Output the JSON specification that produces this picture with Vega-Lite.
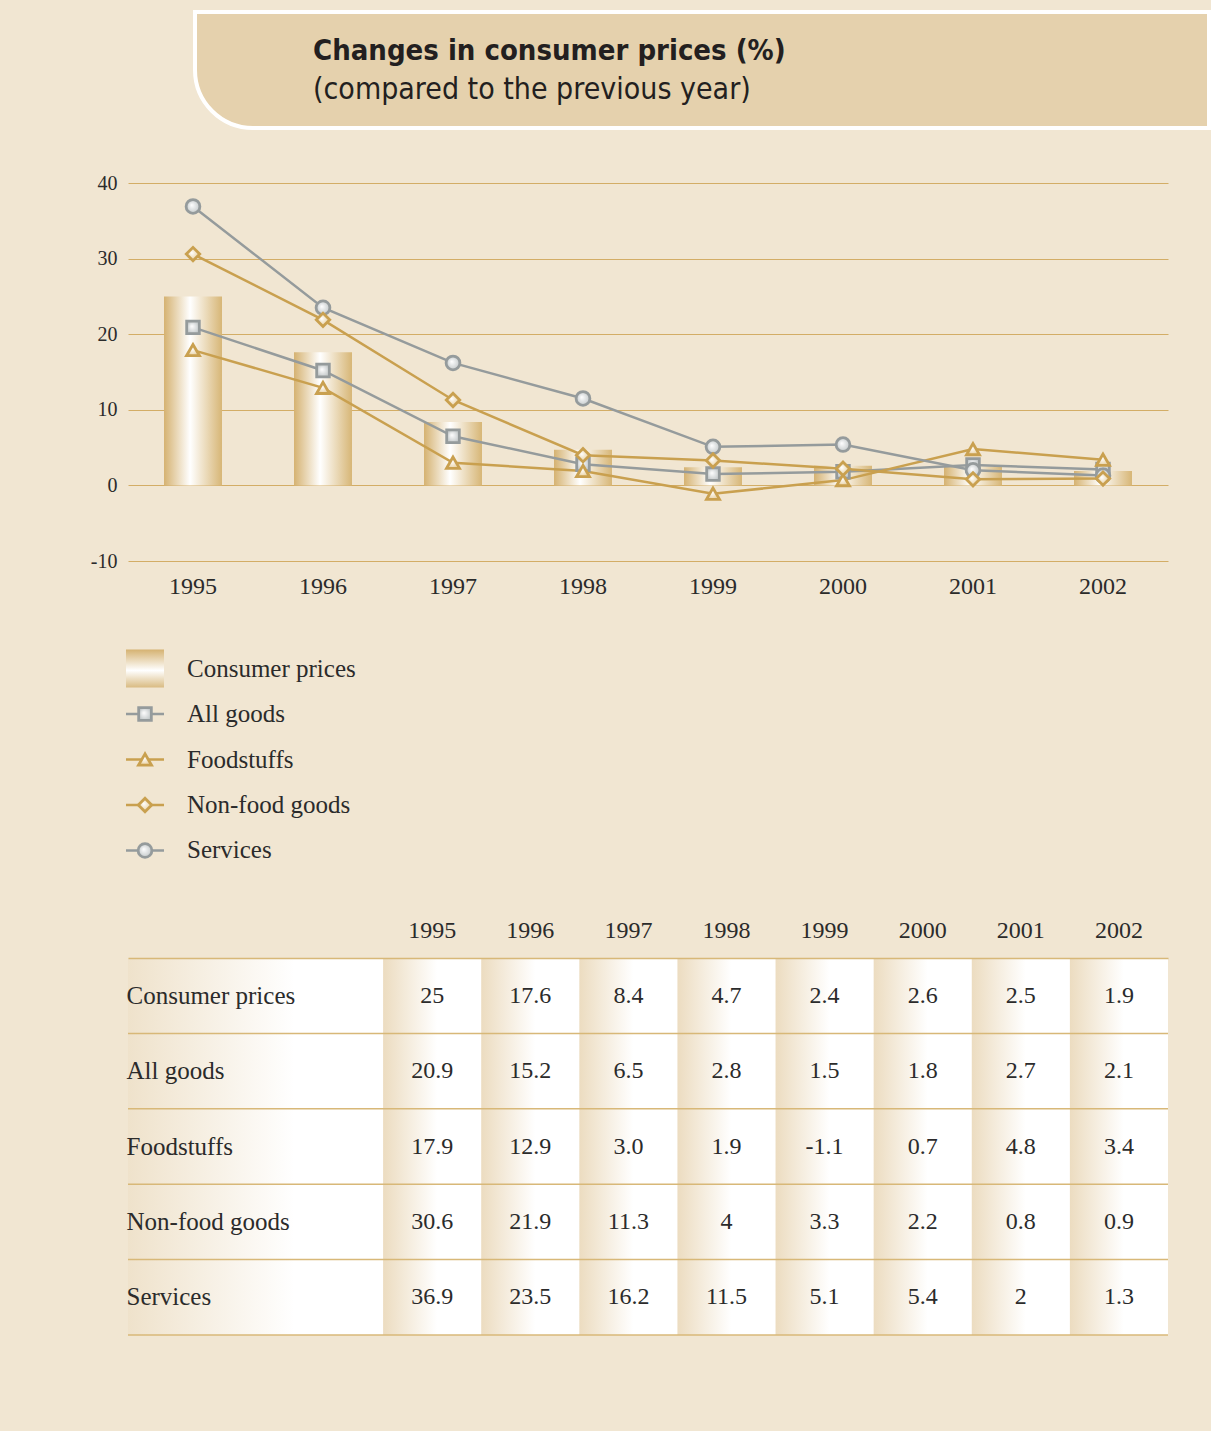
{
  "$schema": "https://vega.github.io/schema/vega-lite/v6.json",
  "background": "#f1e6d2",
  "padding": {"top": 10, "left": 90, "right": 0, "bottom": 96},
  "bounds": "flush",
  "spacing": 55,
  "data": {"values": [
    {"series": "Consumer prices", "year": "1995", "value": 25, "shown": "25"},
    {"series": "Consumer prices", "year": "1996", "value": 17.6, "shown": "17.6"},
    {"series": "Consumer prices", "year": "1997", "value": 8.4, "shown": "8.4"},
    {"series": "Consumer prices", "year": "1998", "value": 4.7, "shown": "4.7"},
    {"series": "Consumer prices", "year": "1999", "value": 2.4, "shown": "2.4"},
    {"series": "Consumer prices", "year": "2000", "value": 2.6, "shown": "2.6"},
    {"series": "Consumer prices", "year": "2001", "value": 2.5, "shown": "2.5"},
    {"series": "Consumer prices", "year": "2002", "value": 1.9, "shown": "1.9"},
    {"series": "All goods", "year": "1995", "value": 20.9, "shown": "20.9"},
    {"series": "All goods", "year": "1996", "value": 15.2, "shown": "15.2"},
    {"series": "All goods", "year": "1997", "value": 6.5, "shown": "6.5"},
    {"series": "All goods", "year": "1998", "value": 2.8, "shown": "2.8"},
    {"series": "All goods", "year": "1999", "value": 1.5, "shown": "1.5"},
    {"series": "All goods", "year": "2000", "value": 1.8, "shown": "1.8"},
    {"series": "All goods", "year": "2001", "value": 2.7, "shown": "2.7"},
    {"series": "All goods", "year": "2002", "value": 2.1, "shown": "2.1"},
    {"series": "Foodstuffs", "year": "1995", "value": 17.9, "shown": "17.9"},
    {"series": "Foodstuffs", "year": "1996", "value": 12.9, "shown": "12.9"},
    {"series": "Foodstuffs", "year": "1997", "value": 3.0, "shown": "3.0"},
    {"series": "Foodstuffs", "year": "1998", "value": 1.9, "shown": "1.9"},
    {"series": "Foodstuffs", "year": "1999", "value": -1.1, "shown": "-1.1"},
    {"series": "Foodstuffs", "year": "2000", "value": 0.7, "shown": "0.7"},
    {"series": "Foodstuffs", "year": "2001", "value": 4.8, "shown": "4.8"},
    {"series": "Foodstuffs", "year": "2002", "value": 3.4, "shown": "3.4"},
    {"series": "Non-food goods", "year": "1995", "value": 30.6, "shown": "30.6"},
    {"series": "Non-food goods", "year": "1996", "value": 21.9, "shown": "21.9"},
    {"series": "Non-food goods", "year": "1997", "value": 11.3, "shown": "11.3"},
    {"series": "Non-food goods", "year": "1998", "value": 4, "shown": "4"},
    {"series": "Non-food goods", "year": "1999", "value": 3.3, "shown": "3.3"},
    {"series": "Non-food goods", "year": "2000", "value": 2.2, "shown": "2.2"},
    {"series": "Non-food goods", "year": "2001", "value": 0.8, "shown": "0.8"},
    {"series": "Non-food goods", "year": "2002", "value": 0.9, "shown": "0.9"},
    {"series": "Services", "year": "1995", "value": 36.9, "shown": "36.9"},
    {"series": "Services", "year": "1996", "value": 23.5, "shown": "23.5"},
    {"series": "Services", "year": "1997", "value": 16.2, "shown": "16.2"},
    {"series": "Services", "year": "1998", "value": 11.5, "shown": "11.5"},
    {"series": "Services", "year": "1999", "value": 5.1, "shown": "5.1"},
    {"series": "Services", "year": "2000", "value": 5.4, "shown": "5.4"},
    {"series": "Services", "year": "2001", "value": 2, "shown": "2"},
    {"series": "Services", "year": "2002", "value": 1.3, "shown": "1.3"}
  ]},
  "vconcat": [
    {
      "data": {"values": [{"part": "tab"}]},
      "width": 1081,
      "height": 116,
      "title": {
        "text": "Changes in consumer prices (%)",
        "subtitle": "(compared to the previous year)",
        "anchor": "start",
        "frame": "group",
        "dx": 185,
        "offset": -95,
        "font": "'Liberation Sans Narrow', 'DejaVu Sans Condensed', 'Roboto Condensed', sans-serif",
        "fontSize": 29,
        "fontWeight": "bold",
        "color": "#231f20",
        "subtitleFont": "'Liberation Sans Narrow', 'DejaVu Sans Condensed', 'Roboto Condensed', sans-serif",
        "subtitleFontSize": 30,
        "subtitleColor": "#231f20",
        "subtitlePadding": 9
      },
      "mark": {"type": "rect", "fill": "#e5d1ad", "stroke": "#ffffff", "strokeWidth": 4, "cornerRadiusBottomLeft": 95},
      "encoding": {
        "x": {"field": "part", "type": "nominal", "scale": {"paddingInner": 0, "paddingOuter": 0.03304, "align": 1}, "axis": null}
      }
    },
    {
      "width": 1040,
      "height": 378,
      "encoding": {
        "x": {
          "field": "year", "type": "ordinal",
          "scale": {"paddingInner": 0.554, "paddingOuter": 0.277},
          "axis": {"title": null, "labelAngle": 0, "ticks": false, "domain": false, "labelFontSize": 24, "labelPadding": 13}
        },
        "y": {
          "field": "value", "type": "quantitative",
          "scale": {"domain": [-10, 40], "nice": false, "zero": false},
          "axis": {"title": null, "values": [-10, 0, 10, 20, 30, 40], "labelExpr": "'' + datum.value", "ticks": false, "domain": false, "grid": true, "gridColor": "#d3ad66", "gridWidth": 1.2, "labelFontSize": 20, "labelPadding": 11}
        }
      },
      "layer": [
        {
          "transform": [{"filter": "datum.series === 'Consumer prices'"}],
          "mark": {"type": "bar", "fill": {"gradient": "linear", "x1": 0, "y1": 0, "x2": 1, "y2": 0, "stops": [{"offset": 0, "color": "#d5b271"}, {"offset": 0.45, "color": "#ffffff"}, {"offset": 1, "color": "#d7b676"}]}}
        },
        {
          "transform": [{"filter": "datum.series !== 'Consumer prices'"}],
          "mark": {"type": "line", "strokeWidth": 2.5},
          "encoding": {
            "color": {"field": "series", "type": "nominal", "scale": {"domain": ["All goods", "Foodstuffs", "Non-food goods", "Services"], "range": ["#959b9c", "#c9a04f", "#c9a04f", "#959b9c"]}, "legend": null}
          }
        },
        {
          "transform": [{"filter": "datum.series === 'All goods' || datum.series === 'Services'"}],
          "mark": {"type": "point", "filled": true, "opacity": 1, "strokeWidth": 2.8, "fill": {"gradient": "radial", "x1": 0.4, "y1": 0.4, "r1": 0, "x2": 0.5, "y2": 0.5, "r2": 0.5, "stops": [{"offset": 0, "color": "#ffffff"}, {"offset": 1, "color": "#c5cacb"}]}},
          "encoding": {
            "shape": {"field": "series", "type": "nominal", "scale": {"domain": ["All goods", "Foodstuffs", "Non-food goods", "Services"], "range": ["square", "triangle-up", "diamond", "circle"]}, "legend": null},
            "size": {"field": "series", "type": "nominal", "scale": {"domain": ["All goods", "Foodstuffs", "Non-food goods", "Services"], "range": [160, 190, 240, 170]}, "legend": null},
            "stroke": {"field": "series", "type": "nominal", "scale": {"domain": ["All goods", "Foodstuffs", "Non-food goods", "Services"], "range": ["#959b9c", "#c9a04f", "#c9a04f", "#959b9c"]}, "legend": null}
          }
        },
        {
          "transform": [{"filter": "datum.series === 'Foodstuffs' || datum.series === 'Non-food goods'"}],
          "mark": {"type": "point", "filled": true, "opacity": 1, "strokeWidth": 2.8, "fill": {"gradient": "radial", "x1": 0.4, "y1": 0.4, "r1": 0, "x2": 0.5, "y2": 0.5, "r2": 0.5, "stops": [{"offset": 0, "color": "#ffffff"}, {"offset": 1, "color": "#e6cc98"}]}},
          "encoding": {
            "shape": {"field": "series", "type": "nominal", "legend": null},
            "size": {"field": "series", "type": "nominal", "legend": null},
            "stroke": {"field": "series", "type": "nominal", "legend": null}
          }
        }
      ]
    },
    {
      "width": 76,
      "height": 287,
      "transform": [{"filter": "datum.year === '1995'"}],
      "encoding": {
        "y": {"field": "series", "type": "nominal", "sort": ["Consumer prices", "All goods", "Foodstuffs", "Non-food goods", "Services"], "scale": {"paddingInner": 0, "paddingOuter": 0.654}, "axis": null}
      },
      "layer": [
        {
          "transform": [{"filter": "datum.series !== 'Consumer prices'"}],
          "mark": {"type": "tick", "orient": "horizontal", "size": 38, "thickness": 2.5, "opacity": 1},
          "encoding": {
            "x": {"datum": "glyph", "type": "nominal", "scale": {"type": "point", "domain": ["glyph", "label"], "padding": 0.405}, "axis": null},
            "color": {"field": "series", "type": "nominal", "scale": {"domain": ["All goods", "Foodstuffs", "Non-food goods", "Services"], "range": ["#959b9c", "#c9a04f", "#c9a04f", "#959b9c"]}, "legend": null}
          }
        },
        {
          "transform": [{"filter": "datum.series === 'All goods' || datum.series === 'Services'"}],
          "mark": {"type": "point", "filled": true, "opacity": 1, "strokeWidth": 2.8, "fill": {"gradient": "radial", "x1": 0.4, "y1": 0.4, "r1": 0, "x2": 0.5, "y2": 0.5, "r2": 0.5, "stops": [{"offset": 0, "color": "#ffffff"}, {"offset": 1, "color": "#c5cacb"}]}},
          "encoding": {
            "x": {"datum": "glyph", "type": "nominal"},
            "shape": {"field": "series", "type": "nominal", "scale": {"domain": ["All goods", "Foodstuffs", "Non-food goods", "Services"], "range": ["square", "triangle-up", "diamond", "circle"]}, "legend": null},
            "size": {"field": "series", "type": "nominal", "scale": {"domain": ["All goods", "Foodstuffs", "Non-food goods", "Services"], "range": [160, 190, 240, 170]}, "legend": null},
            "stroke": {"field": "series", "type": "nominal", "scale": {"domain": ["All goods", "Foodstuffs", "Non-food goods", "Services"], "range": ["#959b9c", "#c9a04f", "#c9a04f", "#959b9c"]}, "legend": null}
          }
        },
        {
          "transform": [{"filter": "datum.series === 'Foodstuffs' || datum.series === 'Non-food goods'"}],
          "mark": {"type": "point", "filled": true, "opacity": 1, "strokeWidth": 2.8, "fill": {"gradient": "radial", "x1": 0.4, "y1": 0.4, "r1": 0, "x2": 0.5, "y2": 0.5, "r2": 0.5, "stops": [{"offset": 0, "color": "#ffffff"}, {"offset": 1, "color": "#e6cc98"}]}},
          "encoding": {
            "x": {"datum": "glyph", "type": "nominal"},
            "shape": {"field": "series", "type": "nominal", "legend": null},
            "size": {"field": "series", "type": "nominal", "legend": null},
            "stroke": {"field": "series", "type": "nominal", "legend": null}
          }
        },
        {
          "transform": [{"filter": "datum.series === 'Consumer prices'"}],
          "mark": {"type": "point", "shape": "square", "size": 1444, "filled": true, "opacity": 1, "strokeWidth": 0, "fill": {"gradient": "linear", "x1": 0, "y1": 0, "x2": 0, "y2": 1, "stops": [{"offset": 0, "color": "#d5b271"}, {"offset": 0.55, "color": "#ffffff"}, {"offset": 1, "color": "#d9bb82"}]}},
          "encoding": {"x": {"datum": "glyph", "type": "nominal"}}
        },
        {
          "mark": {"type": "text", "align": "left", "baseline": "middle", "fontSize": 25, "font": "Liberation Serif", "color": "#2b2b2b"},
          "encoding": {
            "x": {"datum": "label", "type": "nominal"},
            "text": {"field": "series"}
          }
        }
      ]
    },
    {
      "width": 1040,
      "height": 377,
      "encoding": {
        "y": {"field": "series", "type": "nominal", "sort": ["Consumer prices", "All goods", "Foodstuffs", "Non-food goods", "Services"], "scale": {"paddingInner": 0, "paddingOuter": 0}, "axis": {"title": null, "ticks": false, "tickSize": 0, "domain": false, "grid": false, "labelAlign": "left", "labelPadding": 2, "labelFontSize": 25, "zindex": 1}}
      },
      "layer": [
        {
          "transform": [{"filter": "datum.year === '1995'"}],
          "mark": {"type": "rect", "fill": {"gradient": "linear", "x1": 0, "y1": 0, "x2": 1, "y2": 0, "stops": [{"offset": 0, "color": "#efe2cb"}, {"offset": 0.16, "color": "#ffffff"}, {"offset": 1, "color": "#ffffff"}]}}
        },
        {
          "mark": {"type": "rect", "fill": {"gradient": "linear", "x1": 0, "y1": 0, "x2": 1, "y2": 0, "stops": [{"offset": 0, "color": "#ecdcc0"}, {"offset": 0.55, "color": "#ffffff"}, {"offset": 1, "color": "#ffffff"}]}},
          "encoding": {
            "x": {"field": "year", "type": "ordinal", "scale": {"domain": ["row label", "1995", "1996", "1997", "1998", "1999", "2000", "2001", "2002"], "paddingInner": 0, "paddingOuter": 0.8, "align": 1}, "axis": {"orient": "top", "title": null, "values": ["1995", "1996", "1997", "1998", "1999", "2000", "2001", "2002"], "labelAngle": 0, "ticks": false, "domain": true, "domainColor": "#d8b878", "domainWidth": 1.5, "labelFontSize": 24, "labelPadding": 16, "zindex": 1}}
          }
        },
        {
          "mark": {"type": "text", "fontSize": 24, "font": "Liberation Serif", "color": "#2b2b2b", "baseline": "middle"},
          "encoding": {
            "x": {"field": "year", "type": "ordinal"},
            "text": {"field": "shown"}
          }
        },
        {
          "transform": [{"filter": "datum.year === '1995'"}],
          "mark": {"type": "rule", "color": "#d8b878", "strokeWidth": 1.5},
          "encoding": {
            "y": {"field": "series", "type": "nominal", "bandPosition": 1}
          }
        }
      ]
    }
  ],
  "config": {
    "view": {"stroke": null},
    "axis": {"labelFont": "Liberation Serif", "labelColor": "#2b2b2b"}
  }
}
